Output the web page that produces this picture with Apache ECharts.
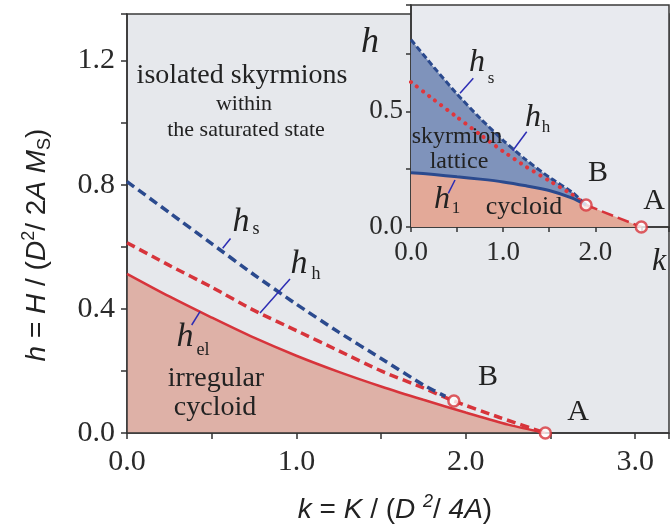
<!DOCTYPE html>
<html>
<head>
<meta charset="utf-8">
<script src="https://cdn.jsdelivr.net/npm/echarts@6/dist/echarts.min.js"></script>
<style>
  html, body { margin: 0; padding: 0; background: #ffffff; }
  #chart { width: 672px; height: 528px; }
</style>
</head>
<body>
<div id="chart"></div>
<script>
// ---- main diagram: phase boundaries h(k) ----
const hsMainK = [0, 0.25, 0.5, 0.75, 1.0, 1.25, 1.5, 1.75, 1.88];
const hsMain  = [0.81, 0.71, 0.61, 0.51, 0.415, 0.325, 0.24, 0.155, 0.118];

const hhMainK = [0, 0.25, 0.5, 0.75, 1.0, 1.25, 1.5, 1.75, 1.93, 2.2, 2.47];
const hhMain  = [0.613, 0.54, 0.47, 0.395, 0.33, 0.265, 0.2, 0.145, 0.103, 0.05, 0];

const helMainK = [0, 0.25, 0.5, 0.75, 1.0, 1.25, 1.5, 1.75, 2.0, 2.25, 2.47];
const helMain  = [0.513, 0.44, 0.372, 0.307, 0.249, 0.197, 0.15, 0.107, 0.066, 0.027, 0];

const mainPointsK = [1.93, 2.47];   // B, A
const mainPointsH = [0.103, 0];

// ---- inset diagram ----
const inK  = [0, 0.25, 0.5, 0.75, 1.0, 1.25, 1.5, 1.75, 1.9];
const hsIn = [0.81, 0.69, 0.575, 0.47, 0.375, 0.29, 0.215, 0.15, 0.095];
const hhIn = [0.627, 0.55, 0.475, 0.40, 0.327, 0.26, 0.2, 0.14, 0.095];
const h1In = [0.235, 0.227, 0.217, 0.207, 0.195, 0.178, 0.158, 0.125, 0.095];
const baInK = [1.9, 2.5];
const baIn  = [0.095, 0];

const inPointsK = [1.9, 2.5];   // B, A
const inPointsH = [0.095, 0];

// ---- axis ticks ----
const mainXTicks = [0, 1, 2, 3];
const mainYTicks = [0, 0.4, 0.8, 1.2];
const inXTicks = [0, 1, 2];
const inYTicks = [0, 0.5];

const pairs = (ks, hs) => ks.map((k, i) => [k, hs[i]]);
const near = (v, list) => list.some(t => Math.abs(t - v) < 1e-6);

const RED = '#d7343b';
const BLUE = '#2b4a8e';
const LEAD = '#2c2cb4';
const SERIF = 'Liberation Serif';
const SANS = 'Liberation Sans';

const tickFmt = list => v => near(v, list) ? v.toFixed(1) : '';

function axisCommon(fontSize, margin, len) {
  return {
    axisLine: { show: true, lineStyle: { color: '#333', width: 1.5 } },
    axisTick: { show: true, inside: false, length: len, lineStyle: { color: '#333', width: 1.5 } },
    splitLine: { show: false },
    axisLabel: { color: '#2a2a2a', fontFamily: SERIF, fontSize: fontSize, margin: margin }
  };
}

const chart = echarts.init(document.getElementById('chart'), null, { renderer: 'canvas' });

function txt(x, y, text, size, opts) {
  return {
    type: 'text', x: x, y: y, z: 100,
    style: Object.assign({
      text: text, fontSize: size, fontFamily: SERIF, fill: '#222',
      align: 'center', verticalAlign: 'middle'
    }, (opts || {}))
  };
}
function lead(x1, y1, x2, y2) {
  return { type: 'line', z: 100, shape: { x1, y1, x2, y2 }, style: { stroke: LEAD, lineWidth: 1.5 } };
}
const it = { fontStyle: 'italic' };

const option = {
  animation: false,
  backgroundColor: '#ffffff',
  grid: [
    { left: 127, top: 14, width: 563, height: 419, show: true, z: 0,
      backgroundColor: '#e6e8ec', borderColor: '#3a3a3a', borderWidth: 1.5 },
    { left: 411, top: 5, width: 279, height: 222, show: true, z: 1,
      backgroundColor: '#e8eaef', borderColor: '#3a3a3a', borderWidth: 1.5 }
  ],
  xAxis: [
    Object.assign(axisCommon(30, 14, 6), {
      type: 'value', gridIndex: 0, min: 0, max: 3.2, interval: 0.5, z: 2
    }),
    Object.assign(axisCommon(27, 12, 5), {
      type: 'value', gridIndex: 1, min: 0, max: 2.8, interval: 0.5, z: 3
    })
  ],
  yAxis: [
    Object.assign(axisCommon(30, 12, 6), {
      type: 'value', gridIndex: 0, min: 0, max: 1.35, interval: 0.2, z: 2
    }),
    Object.assign(axisCommon(27, 8, 5), {
      type: 'value', gridIndex: 1, min: 0, max: 0.96, interval: 0.25, z: 3
    })
  ],
  series: [
    // main panel
    { type: 'line', xAxisIndex: 0, yAxisIndex: 0, data: pairs(helMainK, helMain),
      symbol: 'none', smooth: 0.3, z: 2,
      lineStyle: { color: RED, width: 2.5 },
      areaStyle: { color: '#deb1a7', opacity: 1 } },
    { type: 'line', xAxisIndex: 0, yAxisIndex: 0, data: pairs(hhMainK, hhMain),
      symbol: 'none', smooth: 0.2, z: 3,
      lineStyle: { color: RED, width: 3.5, type: [9, 5] } },
    { type: 'line', xAxisIndex: 0, yAxisIndex: 0, data: pairs(hsMainK, hsMain),
      symbol: 'none', smooth: 0.2, z: 3,
      lineStyle: { color: BLUE, width: 3.5, type: [9, 5] } },
    { type: 'scatter', xAxisIndex: 0, yAxisIndex: 0, data: pairs(mainPointsK, mainPointsH),
      symbol: 'circle', symbolSize: 11, z: 4,
      itemStyle: { color: '#ffffff', borderColor: RED, borderWidth: 2.5 } },

    // inset panel: filled regions
    { type: 'line', xAxisIndex: 1, yAxisIndex: 1, data: pairs(inK, hsIn),
      symbol: 'none', smooth: 0.2, z: 5,
      lineStyle: { width: 0, opacity: 0 },
      areaStyle: { color: '#7f93bb', opacity: 1 } },
    { type: 'line', xAxisIndex: 1, yAxisIndex: 1,
      data: pairs(inK, h1In).concat([[baInK[1], baIn[1]]]),
      symbol: 'none', smooth: 0.2, z: 6,
      lineStyle: { width: 0, opacity: 0 },
      areaStyle: { color: '#e3a998', opacity: 1 } },
    // inset panel: boundary lines
    { type: 'line', xAxisIndex: 1, yAxisIndex: 1, data: pairs(inK, hsIn),
      symbol: 'none', smooth: 0.2, z: 7,
      lineStyle: { color: BLUE, width: 3, type: [6, 3] } },
    { type: 'line', xAxisIndex: 1, yAxisIndex: 1, data: pairs(inK, hhIn),
      symbol: 'none', smooth: 0.2, z: 7,
      lineStyle: { color: '#e0363c', width: 4, type: [0.1, 7.5], cap: 'round' } },
    { type: 'line', xAxisIndex: 1, yAxisIndex: 1, data: pairs(inK, h1In),
      symbol: 'none', smooth: 0.2, z: 7,
      lineStyle: { color: BLUE, width: 3 } },
    { type: 'line', xAxisIndex: 1, yAxisIndex: 1, data: pairs(baInK, baIn),
      symbol: 'none', z: 7,
      lineStyle: { color: RED, width: 2.5, type: [12, 5] } },
    { type: 'scatter', xAxisIndex: 1, yAxisIndex: 1, data: pairs(inPointsK, inPointsH),
      symbol: 'circle', symbolSize: 11, z: 8,
      itemStyle: { color: '#ffffff', borderColor: RED, borderWidth: 2.5 } }
  ],
  graphic: [
    // main panel text
    txt(242, 76, 'isolated skyrmions', 28),
    txt(244, 104, 'within', 22),
    txt(246, 130, 'the saturated state', 22),
    txt(241, 222, 'h', 34, it), txt(256, 229, 's', 18),
    txt(299, 264, 'h', 34, it), txt(316, 274, 'h', 18),
    txt(185, 337, 'h', 34, it), txt(203, 350, 'el', 18),
    txt(216, 379, 'irregular', 28),
    txt(215, 408, 'cycloid', 28),
    txt(488, 377, 'B', 30),
    txt(578, 412, 'A', 30),
    lead(222.7, 248.3, 230.5, 238.5),
    lead(260, 313, 290, 279),
    lead(200, 311.7, 191.7, 325),

    // inset text
    txt(370, 43, 'h', 36, it),
    txt(659, 262, 'k', 32, it),
    txt(477, 63, 'h', 32, it), txt(491, 79, 's', 17),
    txt(533, 118, 'h', 32, it), txt(546, 128, 'h', 17),
    txt(442, 200, 'h', 32, it), txt(456, 209, '1', 17),
    txt(457, 137, 'skyrmion', 24),
    txt(459, 162, 'lattice', 24),
    txt(524, 207, 'cycloid', 26),
    txt(598, 173, 'B', 30),
    txt(654, 201, 'A', 30),
    lead(460, 93.3, 473.3, 78.3),
    lead(512.7, 150.7, 526.7, 131.7),
    lead(455, 180, 448.3, 193.3),

    // axis titles
    { type: 'text', x: 395, y: 510, z: 100,
      style: {
        text: '{i|k} = {i|K} / ({i|D} {sup|2}/ {i|4A})',
        fontSize: 28, fontFamily: SANS, fill: '#222', align: 'center', verticalAlign: 'middle',
        rich: {
          i: { fontStyle: 'italic', fontSize: 28, fontFamily: SANS, fill: '#222', lineHeight: 34 },
          sup: { fontStyle: 'italic', fontSize: 18, fontFamily: SANS, fill: '#222', verticalAlign: 'top' }
        }
      } },
    { type: 'text', x: 37, y: 245, rotation: Math.PI / 2, z: 100,
      style: {
        text: '{i|h} = {i|H} / ({i|D}{sup|2}/ 2{i|A} {i|M}{sub|S})',
        fontSize: 28, fontFamily: SANS, fill: '#222', align: 'center', verticalAlign: 'middle',
        rich: {
          i: { fontStyle: 'italic', fontSize: 28, fontFamily: SANS, fill: '#222', lineHeight: 34 },
          sup: { fontSize: 18, fontFamily: SANS, fill: '#222', verticalAlign: 'top' },
          sub: { fontSize: 18, fontFamily: SANS, fill: '#222', verticalAlign: 'bottom' }
        }
      } }
  ]
};

option.xAxis[0].axisLabel.formatter = tickFmt(mainXTicks);
option.yAxis[0].axisLabel.formatter = tickFmt(mainYTicks);
option.xAxis[1].axisLabel.formatter = tickFmt(inXTicks);
option.yAxis[1].axisLabel.formatter = tickFmt(inYTicks);

chart.setOption(option);
</script>
</body>
</html>
